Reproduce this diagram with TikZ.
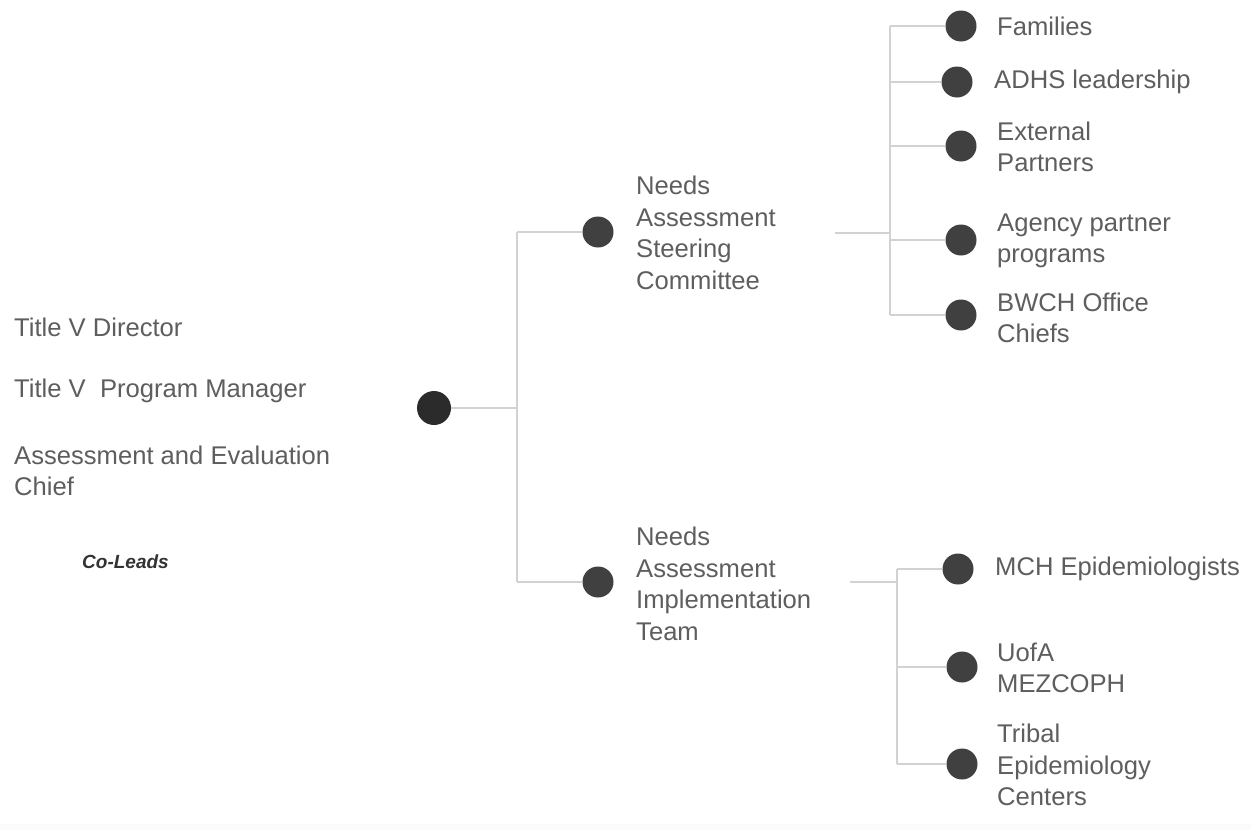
\documentclass[tikz,border=0pt]{standalone}
\usepackage{fontspec}
\setmainfont{Liberation Sans}
\definecolor{txtgray}{HTML}{5E5E5E}
\definecolor{dotgray}{HTML}{404040}
\definecolor{rootgray}{HTML}{2B2B2B}
\definecolor{linegray}{HTML}{D2D2D2}
\definecolor{band}{HTML}{FBFBFB}
\begin{document}
\begin{tikzpicture}[x=1pt,y=-1pt,
  dotnode/.style={circle,fill=dotgray,minimum size=31pt,inner sep=0pt},
  rootdot/.style={circle,fill=rootgray,minimum size=34pt,inner sep=0pt},
  lbl/.style={anchor=west,inner sep=0pt,text=txtgray,align=left,
    font=\fontsize{25.6}{31.5}\selectfont},
  conn/.style={draw=linegray,line width=1.8pt}]
\useasboundingbox (0,0) rectangle (1251,830);
\fill[white] (0,0) rectangle (1251,830);
\fill[band] (0,824) rectangle (1251,830);

% left texts
\node[lbl] (t1) at (14,327) {Title V Director};
\node[lbl] (t2) at (14,391) {Title V\ \ Program Manager};
\node[lbl] (t3) at (14,471) {Assessment and Evaluation\\Chief};
\node[anchor=west,inner sep=0pt,text=black!80,font=\fontsize{19}{22}\selectfont\bfseries\itshape] (cl) at (82,562) {Co-Leads};

% root
\node[rootdot] (root) at (434,408) {};
\coordinate (j0) at (517,408);

% level 1
\node[dotnode] (sc) at (598,232) {};
\node[dotnode] (it) at (598,582) {};
\node[lbl] (sct) at (636,233) {Needs\\Assessment\\Steering\\Committee};
\node[lbl] (itt) at (636,584) {Needs\\Assessment\\Implementation\\Team};

% level 2 top
\coordinate (s0) at (835,233);
\coordinate (s1) at (890,233);
\node[dotnode] (f1) at (961,26) {};
\node[dotnode] (f2) at (957,82) {};
\node[dotnode] (f3) at (961,146) {};
\node[dotnode] (f4) at (961,240) {};
\node[dotnode] (f5) at (961,315) {};
\node[lbl] (f1t) at (997,26) {Families};
\node[lbl] (f2t) at (994,82) {ADHS leadership};
\node[lbl] (f3t) at (997,147) {External\\Partners};
\node[lbl] (f4t) at (997,241) {Agency partner\\programs};
\node[lbl] (f5t) at (997,318) {BWCH Office\\Chiefs};

% level 2 bottom
\coordinate (i0) at (850,582);
\coordinate (i1) at (897,582);
\node[dotnode] (g1) at (958,569) {};
\node[dotnode] (g2) at (962,667) {};
\node[dotnode] (g3) at (962,764) {};
\node[lbl] (g1t) at (995,569) {MCH Epidemiologists};
\node[lbl] (g2t) at (997,668) {UofA\\MEZCOPH};
\node[lbl] (g3t) at (997,765) {Tribal\\Epidemiology\\Centers};

% connectors
\draw[conn] (root) -- (j0);
\draw[conn] (j0 |- sc) -- (j0 |- it);
\draw[conn] (j0 |- sc) -- (sc);
\draw[conn] (j0 |- it) -- (it);

\draw[conn] (s0) -- (s1);
\draw[conn] (s1 |- f1) -- (s1 |- f5);
\foreach \n in {f1,f2,f3,f4,f5} \draw[conn] (s1 |- \n) -- (\n);

\draw[conn] (i0) -- (i1);
\draw[conn] (i1 |- g1) -- (i1 |- g3);
\foreach \n in {g1,g2,g3} \draw[conn] (i1 |- \n) -- (\n);
\end{tikzpicture}
\end{document}
